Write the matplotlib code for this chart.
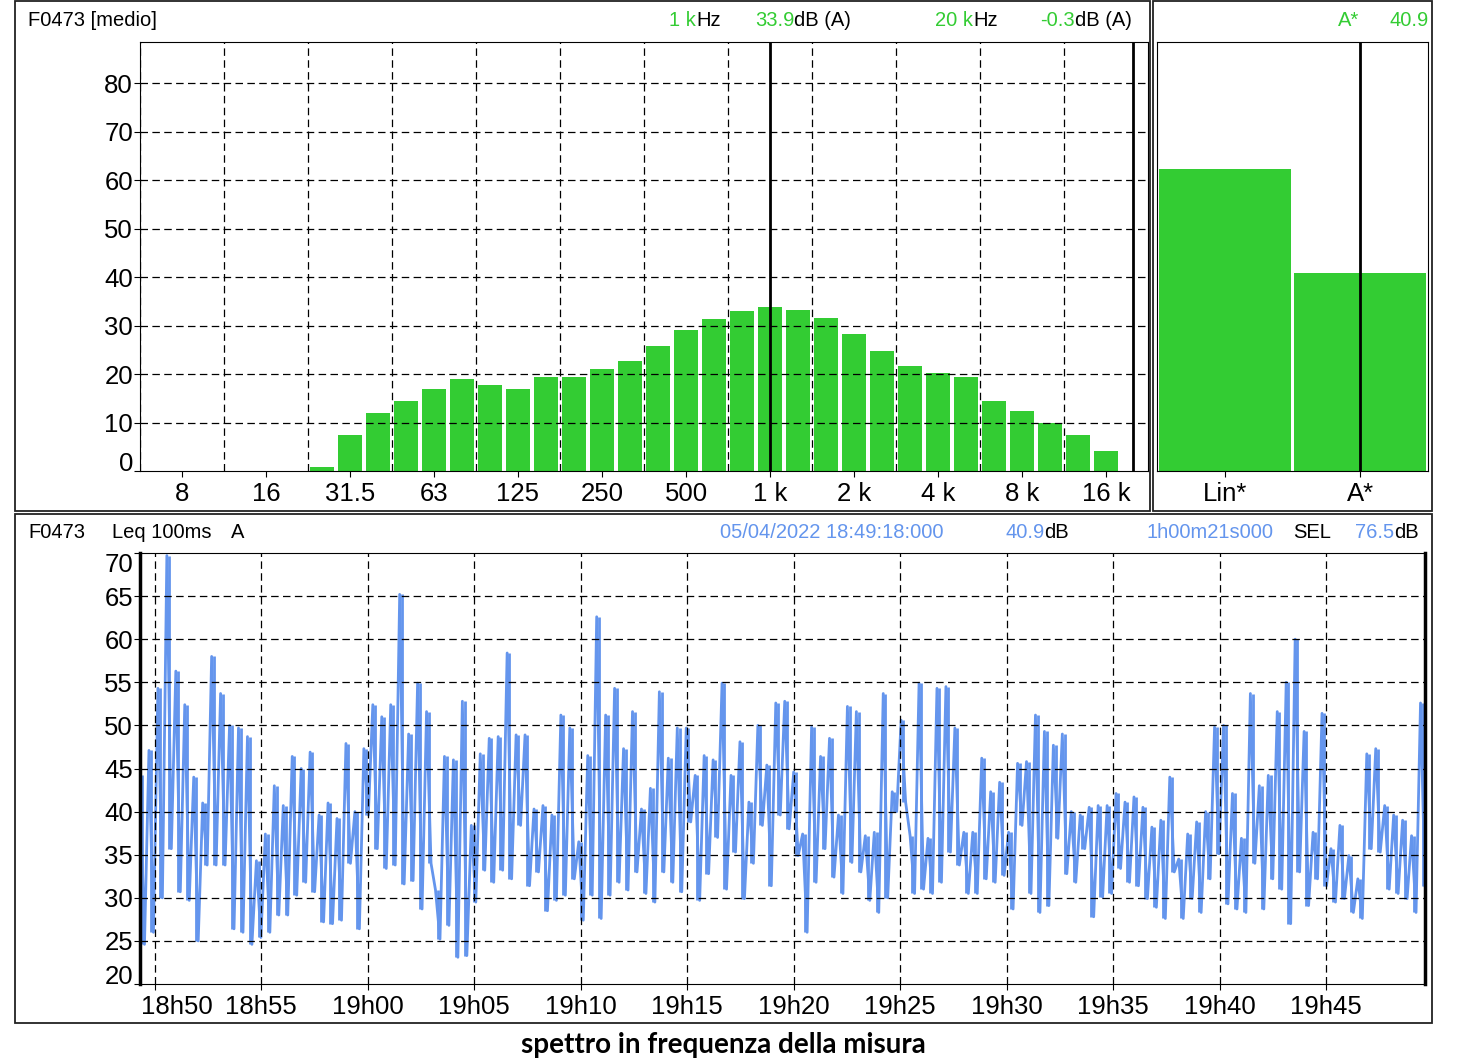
import numpy as np
import matplotlib
matplotlib.use("Agg")
import matplotlib.pyplot as plt
from matplotlib.patches import Rectangle
from matplotlib.transforms import ScaledTranslation

W, H = 1463, 1062

# --- third-octave spectrum, 25 Hz .. 20 kHz, dB(A) ---
band_n = list(range(-16, 14))          # band number relative to 1 kHz (1/3 octave steps)
spec_db = [0.8, 7.4, 12.0, 14.4, 16.9, 19.0, 17.7, 16.9, 19.4, 19.4,
           21.0, 22.7, 25.8, 29.1, 31.3, 33.0, 33.9, 33.2, 31.5, 28.2,
           24.7, 21.6, 20.2, 19.4, 14.4, 12.4, 9.9, 7.4, 4.1, -0.3]
oct_ticks = [-7, -6, -5, -4, -3, -2, -1, 0, 1, 2, 3, 4]
oct_labels = ['8', '16', '31.5', '63', '125', '250', '500', '1 k', '2 k', '4 k', '8 k', '16 k']

# --- broadband levels ---
bb_labels = ['Lin*', 'A*']
bb_db = [62.3, 40.9]

# --- Leq 100ms A time history: envelope read per ~25 s slice (high / low) ---
leq_hi = [44.2, 47.1, 54.3, 69.7, 56.3, 52.4, 44.0, 41.0, 58.0, 53.7,
          50.0, 49.7, 48.7, 34.3, 37.4, 43.0, 40.7, 46.4, 45.0, 46.9,
          39.6, 41.0, 39.2, 47.9, 40.0, 47.3, 52.4, 51.0, 52.4, 65.2,
          49.0, 54.9, 51.6, 30.9, 46.4, 46.0,
          52.8, 38.4, 46.7, 48.5, 48.7, 58.4, 48.9, 48.9, 40.3, 40.7,
          39.6, 51.2, 49.7, 36.5, 46.5, 62.6, 51.2, 54.3, 47.3, 51.6,
          40.3, 42.7, 53.9, 46.2, 49.7, 49.7, 44.2, 46.5, 46.0, 54.9,
          44.2, 48.1, 41.1, 50.0, 45.4, 52.6,
          52.8, 44.6, 37.4, 49.8, 46.4, 48.5, 39.6, 52.2, 51.6, 37.2,
          37.6, 53.7, 42.3, 50.6, 37.2, 54.9, 36.9, 54.3, 54.5, 49.7,
          37.6, 37.6, 46.2, 42.3, 43.4, 37.6, 45.6, 45.8, 51.2, 49.3,
          47.7, 49.0, 40.0, 39.6, 40.5, 40.7,
          40.7, 42.1, 41.1, 41.7, 40.5, 38.2, 39.0, 44.0, 34.5, 37.4,
          38.8, 40.0, 49.8, 50.0, 42.1, 36.9, 53.7, 43.0, 44.2, 51.6,
          55.0, 60.0, 49.3, 37.6, 51.4, 35.7, 38.4, 34.9, 32.2, 46.7,
          47.3, 40.7, 39.6, 39.0, 37.2, 52.6]
leq_lo = [24.6, 26.0, 30.0, 35.7, 30.7, 29.7, 25.0, 33.8, 33.8, 33.8,
          26.4, 26.0, 24.6, 25.4, 26.0, 28.0, 28.0, 30.3, 31.8, 30.7,
          27.2, 27.0, 27.4, 34.0, 26.4, 39.6, 35.7, 33.4, 33.8, 31.6,
          32.0, 28.7, 34.0, 25.2, 26.8, 23.1,
          23.3, 29.5, 33.2, 31.8, 33.2, 32.2, 38.4, 31.4, 33.0, 28.5,
          29.7, 30.3, 32.2, 27.4, 30.3, 27.6, 30.3, 31.8, 30.9, 33.0,
          30.5, 29.5, 33.0, 31.8, 30.7, 38.8, 29.7, 32.8, 37.0, 31.0,
          35.3, 29.9, 34.0, 38.4, 31.4, 39.6,
          38.0, 34.9, 26.0, 31.8, 35.7, 32.4, 30.5, 34.1, 33.0, 29.7,
          28.3, 30.0, 40.0, 41.1, 30.5, 31.0, 30.5, 31.8, 35.3, 33.8,
          30.5, 30.5, 32.2, 31.8, 32.6, 28.7, 38.4, 30.5, 28.3, 29.1,
          36.9, 32.8, 31.8, 35.7, 27.8, 30.1,
          30.5, 33.4, 31.8, 31.4, 29.9, 28.9, 27.6, 33.0, 27.6, 29.9,
          28.3, 32.2, 35.1, 29.3, 28.7, 28.3, 34.0, 28.7, 32.2, 31.0,
          27.0, 33.0, 29.1, 32.2, 31.4, 29.5, 29.9, 28.3, 27.6, 35.7,
          35.3, 31.0, 30.5, 29.9, 28.3, 31.4]
t_start = 49 + 18 / 60            # 18:49:18, minutes after 18:00
duration = 60 + 21 / 60           # 1h00m21s
time_ticks = [50, 55, 60, 65, 70, 75, 80, 85, 90, 95, 100, 105]
time_labels = ['18h50', '18h55', '19h00', '19h05', '19h10', '19h15',
               '19h20', '19h25', '19h30', '19h35', '19h40', '19h45']

GREEN = '#33CC33'
BLUE = '#6495ED'
FONT = ['Liberation Sans', 'DejaVu Sans']
DASH = (0, (6, 3.5))

plt.rcParams['font.family'] = FONT

fig = plt.figure(figsize=(W / 100, H / 100), dpi=100)
renderer = fig.canvas.get_renderer()


def box(x0, y0, x1, y1):
    return [x0 / W, 1 - y1 / H, (x1 - x0) / W, (y1 - y0) / H]


def header(x, y, pieces):
    # consecutive pieces of text in different colours, starting at pixel x
    for s, c in pieces:
        tx = fig.text(x / W, 1 - y / H, s, color=c, ha='left', va='center', fontsize=14.5)
        x += tx.get_window_extent(renderer=renderer).width


# panel frames
for x0, y0, x1, y1 in [(15, 1, 1150, 511), (1153, 1, 1432, 511), (15, 514, 1432, 1023)]:
    fig.add_artist(Rectangle((x0 / W, 1 - y1 / H), (x1 - x0) / W, (y1 - y0) / H,
                             fill=False, lw=1.3, ec='#222222', transform=fig.transFigure))

# ---------------- spectrum ----------------
ax1 = fig.add_axes(box(140, 42, 1148, 471))
pos = np.array(band_n) / 3.0
ax1.bar(pos, spec_db, width=0.29, color=GREEN, zorder=2)
ax1.set_xlim(-7.5, 4.5)
ax1.set_ylim(0, 88.5)
ax1.set_yticks(range(0, 81, 10))
ax1.set_xticks(oct_ticks)
ax1.set_xticklabels(oct_labels)
for g in np.arange(-7.5, 4, 1.0):
    ax1.axvline(g, color='black', lw=0.9, ls=DASH, zorder=3)
for g in range(10, 81, 10):
    ax1.axhline(g, color='black', lw=0.9, ls=DASH, zorder=3)
ax1.axvline(0, color='black', lw=2, zorder=4)
ax1.axvline(np.log2(20), color='black', lw=2, zorder=4)

# ---------------- broadband ----------------
ax2 = fig.add_axes(box(1157, 42, 1428, 471))
ax2.bar([0, 1], bb_db, width=0.975, color=GREEN)
ax2.set_xlim(-0.5, 1.5)
ax2.set_ylim(0, 88.5)
ax2.set_yticks([])
ax2.set_xticks([0, 1])
ax2.set_xticklabels(bb_labels)
ax2.axvline(1, color='black', lw=2)

# ---------------- time history ----------------
ax3 = fig.add_axes(box(140, 553, 1425, 984))
n = len(leq_hi)
t = np.linspace(t_start, t_start + duration, 2 * n)
leq = np.empty(2 * n)
leq[0::2] = leq_hi
leq[1::2] = leq_lo
ax3.plot(t, leq, color=BLUE, lw=2.0, zorder=2)
# min/max span of each slice, as a level meter draws it
tc = (t[0::2] + t[1::2]) / 2
ax3.vlines(tc, leq_lo, leq_hi, color=BLUE, lw=2.0, zorder=2)
ax3.set_xlim(t_start, t_start + duration)
ax3.set_ylim(20, 70)
ax3.set_yticks(range(20, 71, 5))
ax3.set_xticks(time_ticks)
ax3.set_xticklabels(time_labels)
for g in time_ticks:
    ax3.axvline(g, color='black', lw=0.9, ls=DASH, zorder=3)
for g in range(25, 70, 5):
    ax3.axhline(g, color='black', lw=0.9, ls=DASH, zorder=3)
ax3.spines['left'].set_linewidth(2.5)
ax3.spines['right'].set_linewidth(2.5)

for ax in (ax1, ax2, ax3):
    ax.tick_params(length=4.5, width=0.8, pad=0.5, labelsize=18.5)
    ax.tick_params(axis='x', pad=3.5)
    for sp in ax.spines.values():
        sp.set_color('black')

# keep edge labels inside the plot band
ax1.get_yticklabels()[0].set_va('baseline')
ax3.get_yticklabels()[0].set_va('baseline')
ax3.get_yticklabels()[-1].set_va('top')
lab0 = ax3.get_xticklabels()[0]
lab0.set_transform(lab0.get_transform() + ScaledTranslation(0.22, 0, fig.dpi_scale_trans))

# ---------------- header texts ----------------
header(28, 21, [('F0473 [medio]', 'black')])
header(669, 21, [('1 k', GREEN), ('Hz', 'black')])
header(755, 21, [('33.9', GREEN), ('dB (A)', 'black')])
header(935, 21, [('20 k', GREEN), ('Hz', 'black')])
header(1040, 21, [('-0.3', GREEN), ('dB (A)', 'black')])
header(1338, 21, [('A*', GREEN)])
header(1390, 21, [('40.9', GREEN)])

header(28, 532, [('F0473', 'black')])
header(112, 532, [('Leq 100ms', 'black')])
header(231, 532, [('A', 'black')])
header(720, 532, [('05/04/2022 18:49:18:000', BLUE)])
header(1005, 532, [('40.9', BLUE), ('dB', 'black')])
header(1147, 532, [('1h00m21s000', BLUE)])
header(1293, 532, [('SEL', 'black')])
header(1355, 532, [('76.5', BLUE), ('dB', 'black')])

fig.text(723 / W, 1 - 1045 / H, 'spettro in frequenza della misura',
         ha='center', va='center', fontsize=20, fontweight='bold',
         family=['Lato', 'DejaVu Sans'])

fig.savefig('out.png', dpi=100)
